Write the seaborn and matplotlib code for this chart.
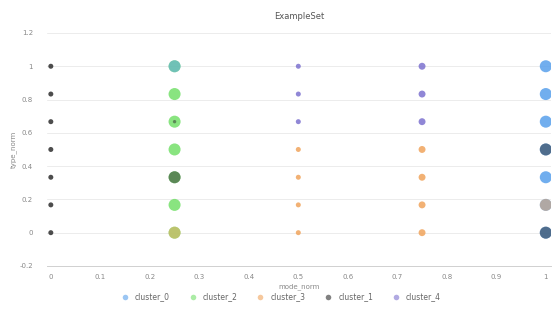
import pandas as pd
import matplotlib.pyplot as plt
from matplotlib.lines import Line2D
import seaborn as sns

# data: main points
mode_norm = [0, 0, 0, 0, 0, 0, 0,
             0.25, 0.25, 0.25, 0.25, 0.25, 0.25, 0.25,
             0.5, 0.5, 0.5, 0.5, 0.5, 0.5, 0.5,
             0.75, 0.75, 0.75, 0.75, 0.75, 0.75, 0.75,
             1, 1, 1, 1, 1, 1, 1]
type_norm = [1, 0.833, 0.667, 0.5, 0.333, 0.167, 0,
             1, 0.833, 0.667, 0.5, 0.333, 0.167, 0,
             1, 0.833, 0.667, 0.5, 0.333, 0.167, 0,
             1, 0.833, 0.667, 0.5, 0.333, 0.167, 0,
             1, 0.833, 0.667, 0.5, 0.333, 0.167, 0]
cluster = ['cluster_1'] * 7 + ['cluster_2'] * 7 \
    + ['cluster_4'] * 3 + ['cluster_3'] * 4 \
    + ['cluster_4'] * 3 + ['cluster_3'] * 4 \
    + ['cluster_0'] * 7
weight = [13] * 7 + [75] * 7 + [13] * 7 + [25] * 7 + [75] * 7

# points that sit on top of others
over_mode = [0.25, 0.25, 0.25, 0.25, 1, 1, 1]
over_type = [1, 0.667, 0.333, 0, 0.5, 0.167, 0]
over_cluster = ['cluster_0', 'cluster_1', 'cluster_1', 'cluster_3', 'cluster_1', 'cluster_3', 'cluster_1']
over_weight = [75, 6, 75, 75, 75, 75, 75]

legend_order = ['cluster_0', 'cluster_2', 'cluster_3', 'cluster_1', 'cluster_4']
colors = {'cluster_0': '#58a0ec', 'cluster_1': '#2e2e2e', 'cluster_2': '#74e06a',
          'cluster_3': '#f0a45c', 'cluster_4': '#7d72cf'}
size_map = {6: 6, 13: 13, 25: 25, 75: 75}

df = pd.DataFrame({'mode_norm': mode_norm, 'type_norm': type_norm,
                   'cluster': cluster, 'w': weight})
df_over = pd.DataFrame({'mode_norm': over_mode, 'type_norm': over_type,
                        'cluster': over_cluster, 'w': over_weight})

sns.set_style('white')
fig = plt.figure(figsize=(5.58, 3.14), dpi=100)
ax = fig.add_axes([0.084, 0.153, 0.903, 0.742])

sns.scatterplot(data=df, x='mode_norm', y='type_norm', hue='cluster', palette=colors,
                size='w', sizes=size_map, alpha=0.85, linewidth=0, legend=False, ax=ax)
sns.scatterplot(data=df_over, x='mode_norm', y='type_norm', hue='cluster', palette=colors,
                size='w', sizes=size_map, alpha=0.5, linewidth=0, legend=False, ax=ax)

ax.set_xlim(-0.008, 1.01)
ax.set_ylim(-0.2, 1.2)
ax.set_xticks([0, 0.1, 0.2, 0.3, 0.4, 0.5, 0.6, 0.7, 0.8, 0.9, 1])
ax.set_xticklabels(['0', '0.1', '0.2', '0.3', '0.4', '0.5', '0.6', '0.7', '0.8', '0.9', '1'])
ax.set_yticks([-0.2, 0, 0.2, 0.4, 0.6, 0.8, 1, 1.2])
ax.set_yticklabels(['-0.2', '0', '0.2', '0.4', '0.6', '0.8', '1', '1.2'])
ax.grid(axis='y', color='#ececec', linewidth=0.7)
ax.set_axisbelow(True)
for side in ['top', 'right', 'left']:
    ax.spines[side].set_visible(False)
ax.spines['bottom'].set_color('#d0d0d0')
ax.spines['bottom'].set_linewidth(0.7)
ax.tick_params(axis='x', length=3, width=0.6, color='#d0d0d0', labelsize=5, labelcolor='#888888', pad=3)
ax.tick_params(axis='y', length=0, labelsize=5, labelcolor='#888888', pad=10)
ax.set_xlabel('mode_norm', fontsize=5, color='#888888', labelpad=2)
ax.set_ylabel('type_norm', fontsize=5, color='#888888', labelpad=2)
ax.set_title('ExampleSet', fontsize=6, color='#555555', pad=10)

handles = [Line2D([], [], marker='o', linestyle='', markersize=4, alpha=0.6,
                  markerfacecolor=colors[c], markeredgewidth=0) for c in legend_order]
fig.legend(handles, legend_order, loc='center', bbox_to_anchor=(0.5, 0.055), ncol=5,
           frameon=False, fontsize=5.5, labelcolor='#666666', handletextpad=0.3,
           columnspacing=2.0)

fig.savefig('out.png', dpi=100)
